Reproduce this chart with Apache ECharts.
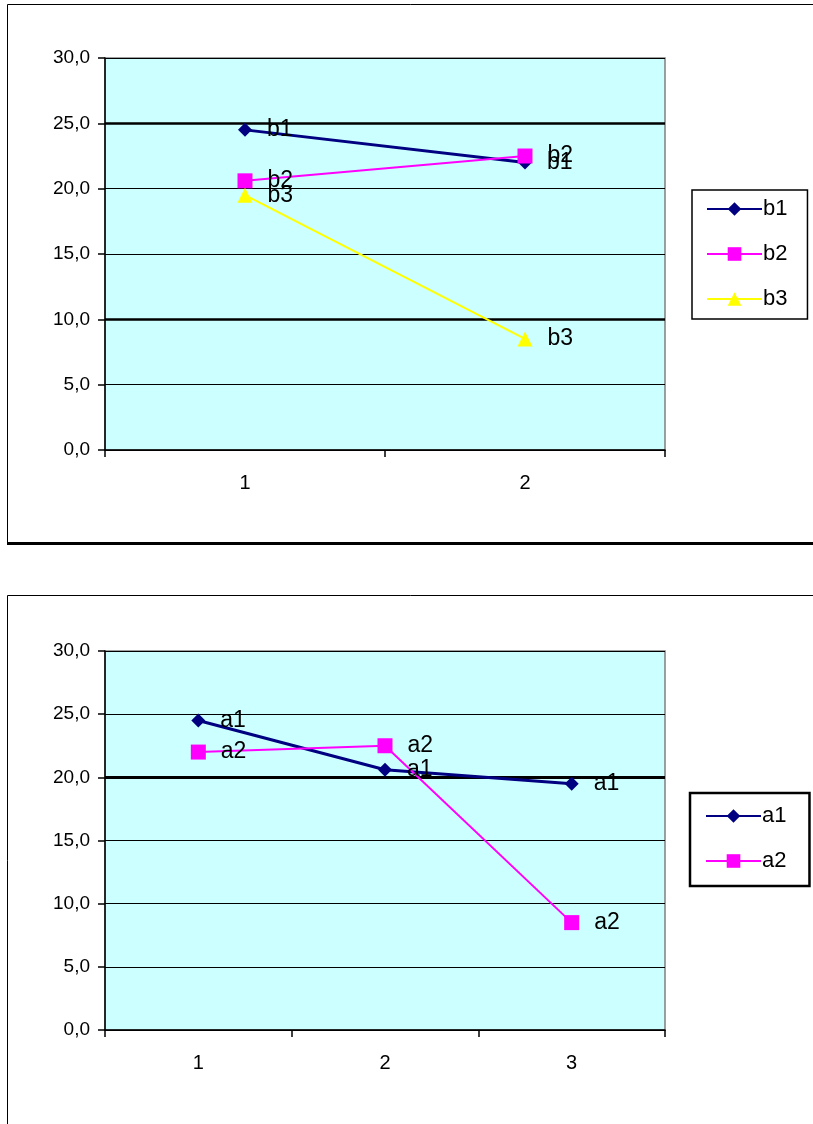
<!DOCTYPE html>
<html>
<head>
<meta charset="utf-8">
<script src="https://cdn.jsdelivr.net/npm/echarts@6/dist/echarts.min.js"></script>
<style>
html,body{margin:0;padding:0;background:#fff;}
#c{width:813px;height:1124px;}
</style>
</head>
<body>
<div id="c"></div>
<script>
// ---- data ----
var topCategories = ['1', '2'];
var b1 = [24.5, 22.0];
var b2 = [20.6, 22.5];
var b3 = [19.5, 8.5];
var bottomCategories = ['1', '2', '3'];
var a1 = [24.5, 20.6, 19.5];
var a2 = [22.0, 22.5, 8.5];
var yTicks = [0, 5, 10, 15, 20, 25, 30];

var FONT = "'Liberation Sans', Arial, sans-serif";
var NAVY = '#000080', MAG = '#FF00FF', YEL = '#FFFF00';
var diamond = 'path://M0,-1 L1,0 L0,1 L-1,0 Z';

function fmt(v){ return v.toFixed(1).replace('.', ','); }

function yAxis(idx){
  return {
    type: 'value', gridIndex: idx, min: yTicks[0], max: yTicks[yTicks.length-1], interval: yTicks[1]-yTicks[0],
    axisLine: {show: true, lineStyle: {color: '#000', width: 1.5}},
    axisTick: {show: true, length: 7, lineStyle: {color: '#000', width: 1.5}},
    axisLabel: {color: '#000', fontSize: 19, fontFamily: FONT, margin: 15, formatter: fmt},
    splitLine: {show: true, lineStyle: {color: '#000', width: 1}}
  };
}
function xAxis(idx, cats){
  return {
    type: 'category', gridIndex: idx, data: cats, boundaryGap: true,
    axisLine: {show: true, lineStyle: {color: '#000', width: 1.5}},
    axisTick: {show: true, length: 7, inside: false, lineStyle: {color: '#000', width: 1.5}},
    axisLabel: {color: '#000', fontSize: 20, fontFamily: FONT, margin: 23},
    splitLine: {show: false}
  };
}
function lbl(name){
  return {show: true, position: 'right', distance: 15, color: '#000', fontSize: 23, fontFamily: FONT, formatter: name};
}
function ser(name, data, idx, color, symbol, size, width){
  return {
    name: name, type: 'line', xAxisIndex: idx, yAxisIndex: idx, data: data,
    symbol: symbol, symbolSize: size, showAllSymbol: true,
    itemStyle: {color: color}, lineStyle: {color: color, width: width},
    label: lbl(name), z: 3
  };
}

var s = [
  ser('b1', b1, 0, NAVY, diamond, 14, 3),
  ser('b2', b2, 0, MAG, 'rect', 15, 2),
  ser('b3', b3, 0, YEL, 'triangle', 15, 2),
  ser('a1', a1, 1, NAVY, diamond, 14, 3),
  ser('a2', a2, 1, MAG, 'rect', 15, 2)
];
s[0].markLine = {silent: true, symbol: 'none', label: {show: false}, lineStyle: {color: '#000', width: 2.5, type: 'solid'}, data: [{yAxis: 25}, {yAxis: 10}], z: 1};
s[3].markLine = {silent: true, symbol: 'none', label: {show: false}, lineStyle: {color: '#000', width: 3, type: 'solid'}, data: [{yAxis: 20}], z: 1};

var chart = echarts.init(document.getElementById('c'), null, {renderer: 'canvas'});
chart.setOption({
  backgroundColor: '#fff',
  animation: false,
  textStyle: {fontFamily: FONT},
  graphic: [
    {type: 'rect', shape: {x: 7.5, y: 4.5, width: 830, height: 539}, style: {fill: null, stroke: '#000', lineWidth: 1}, z: -10},
    {type: 'line', shape: {x1: 7, y1: 543.5, x2: 813, y2: 543.5}, style: {stroke: '#000', lineWidth: 3}, z: -10},
    {type: 'rect', shape: {x: 7.5, y: 595.5, width: 830, height: 560}, style: {fill: null, stroke: '#000', lineWidth: 1}, z: -10}
  ],
  grid: [
    {left: 105, top: 58, width: 560, height: 392, show: true, backgroundColor: '#CCFFFF', borderColor: '#808080', borderWidth: 1.5},
    {left: 105, top: 651, width: 560, height: 379, show: true, backgroundColor: '#CCFFFF', borderColor: '#808080', borderWidth: 1.5}
  ],
  legend: [
    {data: ['b1', 'b2', 'b3'], orient: 'vertical', left: 692, top: 190,
     padding: [8, 20, 9, 14], itemGap: 23, itemWidth: 55, itemHeight: 17,
     borderColor: '#000', borderWidth: 1.5, backgroundColor: '#fff',
     textStyle: {color: '#000', fontSize: 22, fontFamily: FONT, padding: [0, 0, 0, -4]}},
    {data: ['a1', 'a2'], orient: 'vertical', left: 690, top: 793,
     padding: [12, 23, 14, 15], itemGap: 23, itemWidth: 55, itemHeight: 17,
     borderColor: '#000', borderWidth: 2.5, backgroundColor: '#fff',
     textStyle: {color: '#000', fontSize: 22, fontFamily: FONT, padding: [0, 0, 0, -4]}}
  ],
  xAxis: [xAxis(0, topCategories), xAxis(1, bottomCategories)],
  yAxis: [yAxis(0), yAxis(1)],
  series: s
});
</script>
</body>
</html>
